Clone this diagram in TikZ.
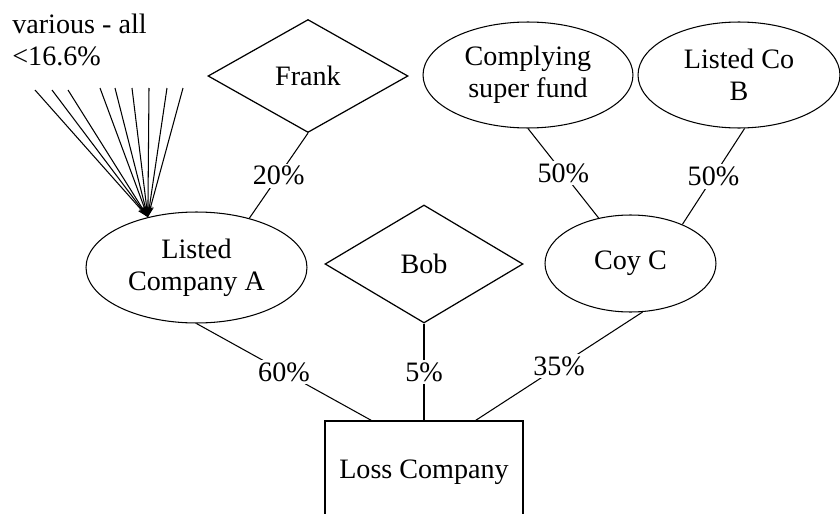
\documentclass[tikz,border=0pt]{standalone}
\usepackage{fontspec}
\setmainfont{Liberation Serif}
\usetikzlibrary{shapes.geometric,arrows.meta}

\tikzset{
  every node/.style={font=\fontsize{16}{18.2}\selectfont},
  link/.style={draw=black,line width=0.6pt},
  pct/.style={fill=white,inner sep=1.5pt},
  person/.style={diamond,draw,line width=0.7pt,inner sep=0pt},
  entity/.style={ellipse,draw,line width=0.6pt,inner sep=0pt,align=center},
  company/.style={rectangle,draw,line width=0.6pt,inner sep=0pt},
  holder/.style={link,-{Stealth[length=2.2mm,width=1.3mm]}}
}

\begin{document}
\begin{tikzpicture}[x=0.02cm,y=-0.02cm]
\clip (0,0) rectangle (840,514);
\fill[white] (0,0) rectangle (840,514);

% shareholders and companies
\node[person,minimum width=4cm,minimum height=2.26cm] (frank) at (308,76) {Frank};
\node[person,minimum width=3.96cm,minimum height=2.36cm] (bob) at (424,264) {Bob};
\node[entity,minimum width=4.2cm,minimum height=2.12cm] (csf) at (528,75) {Complying\\super fund};
\node[entity,minimum width=4.04cm,minimum height=2.12cm] (lcb) at (739,75) {Listed Co\\B};
\node[entity,minimum width=3.42cm,minimum height=1.94cm] (coy) at (630.5,263.5) {Coy C};
\node[entity,minimum width=4.42cm,minimum height=2.22cm] (lca) at (196.5,267.5) {Listed\\Company A};
\node[company,minimum width=3.96cm,minimum height=2.04cm] (loss) at (424,472) {Loss Company};

% small holders of Listed Company A
\node[align=left,anchor=north west,inner sep=0pt] (various) at (12,14) {various - all\\<16.6\%};
\coordinate (v1) at (35,90);
\coordinate (v2) at (52,90);
\coordinate (v3) at (68,90);
\coordinate (v4) at (100,88);
\coordinate (v5) at (115,88);
\coordinate (v6) at (132,88);
\coordinate (v7) at (149,88);
\coordinate (v8) at (167,88);
\coordinate (v9) at (183,88);
\foreach \v in {v1,v2,v3,v4,v5,v6,v7,v8,v9}
  \draw[holder] (\v) -- (lca.134);

% ownership links
\draw[link] (frank.south) -- node[pct] {20\%} (lca.43);
\draw[link] (csf.south) -- node[pct] {50\%} (coy.125);
\draw[link] (lcb.-84) -- node[pct] {50\%} (coy.37);
\draw[link] (lca.south) -- node[pct] {60\%} ([xshift=0.94cm]loss.north west);
\draw[link] (bob.south) -- node[pct] {5\%} (loss.north);
\draw[link] (coy.-76) -- node[pct] {35\%} ([xshift=-0.96cm]loss.north east);
\end{tikzpicture}
\end{document}
